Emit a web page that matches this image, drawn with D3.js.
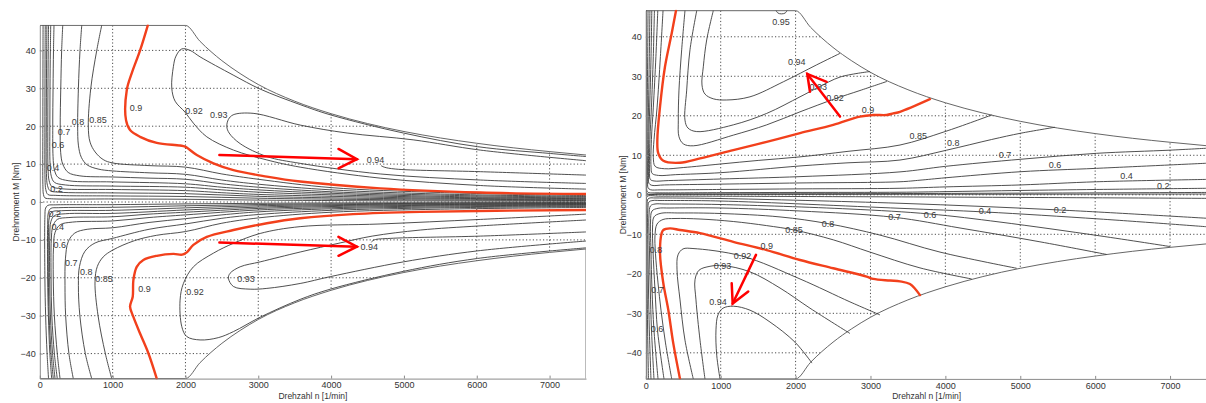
<!DOCTYPE html>
<html>
<head>
<meta charset="utf-8">
<script src="https://cdn.jsdelivr.net/npm/d3@7"></script>
<style>
  html, body { margin: 0; padding: 0; background: #fff; }
  svg { display: block; font-family: "Liberation Sans", Arial, sans-serif; }
</style>
</head>
<body>
<svg id="chart" width="1206" height="403"></svg>
<script>
// ---------- axes ----------
const speedTicks  = [0, 1000, 2000, 3000, 4000, 5000, 6000, 7000];
const torqueTicks = [-40, -30, -20, -10, 0, 10, 20, 30, 40];

// operating envelope (max / min torque over speed)
const torqueMax = [[0,46.6],[2000,46.6],[2200,42.4],[2500,37.3],[2750,33.9],[3000,31.0],[3500,26.6],[4000,23.3],[4500,20.7],[5000,18.6],[5500,16.9],[6000,15.5],[6500,14.3],[7000,13.3],[7500,12.4]];
const torqueMin = [[0,-46.6],[2000,-46.6],[2200,-42.4],[2500,-37.3],[2750,-33.9],[3000,-31.0],[3500,-26.6],[4000,-23.3],[4500,-20.7],[5000,-18.6],[5500,-16.9],[6000,-15.5],[6500,-14.3],[7000,-13.3],[7500,-12.4]];

// ---------- machine A (left map): iso-efficiency lines [n, M] ----------
const A085u = [[850,46.6],[782,40],[700,30],[666,20],[690,15.8],[760,13.2],[870,11.2],[1000,10.3],[1500,9.6],[2000,9.2],[2500,7.4],[3000,6.0],[4000,3.8],[5500,2.5],[7500,1.7]];
const A080u = [[576,46.6],[552,40],[530,30],[520,20],[530,15],[570,11.8],[650,9.8],[800,8.7],[1000,8.2],[1500,7.7],[2000,7.3],[2500,5.8],[3000,4.7],[4000,3.2],[5500,2.1],[7500,1.45]];
const A070u = [[315,46.6],[300,40],[288,30],[280,20],[287,13],[315,10],[390,7.8],[550,6.9],[1000,6.6],[1500,6.3],[2000,6.0],[2500,4.8],[3000,3.9],[4000,2.7],[5500,1.8],[7500,1.25]];
const A060u = [[195,46.6],[188,40],[182,30],[178,20],[182,12],[200,8.5],[250,6.5],[400,5.6],[1000,5.3],[2000,4.8],[2500,3.9],[3000,3.2],[4000,2.3],[5500,1.5],[7500,1.05]];
const A050u = [[150,46.6],[145,40],[140,30],[138,20],[141,10],[158,6.8],[200,5.2],[350,4.5],[1000,4.2],[2000,3.9],[2500,3.2],[3000,2.6],[4000,1.9],[5500,1.25],[7500,0.88]];
const A040u = [[120,46.6],[116,40],[112,30],[110,20],[113,9],[128,5.6],[165,4.1],[300,3.5],[1000,3.3],[2000,3.0],[2500,2.45],[3000,2.0],[4000,1.5],[5500,1.0],[7500,0.72]];
const A030u = [[97,46.6],[94,40],[91,30],[89,20],[91,7.5],[105,4.4],[140,3.0],[260,2.6],[1000,2.4],[2000,2.2],[3000,1.5],[4000,1.1],[5500,0.78],[7500,0.55]];
const A020u = [[75,46.6],[73,40],[71,30],[70,20],[72,6],[82,3.3],[110,2.0],[220,1.75],[1000,1.6],[2000,1.45],[3000,1.0],[4000,0.75],[5500,0.52],[7500,0.38]];
const A010u = [[45,46.6],[44,40],[43,30],[42,20],[43,4],[50,2],[70,1.1],[160,0.85],[1000,0.8],[2000,0.72],[3000,0.5],[4000,0.38],[5500,0.27],[7500,0.2]];

const A085l = [[988,-46.6],[900,-40],[800,-30],[758,-21],[790,-17],[870,-14.5],[1000,-12.7],[1300,-10.2],[1600,-8.8],[2000,-7.8],[2500,-5.6],[3000,-4.2],[4000,-2.7],[5500,-1.9],[7500,-1.45]];
const A080l = [[713,-46.6],[625,-40],[550,-30],[530,-22],[545,-17],[620,-13],[760,-10.8],[1000,-9.6],[1500,-7.2],[2000,-5.8],[2500,-4.3],[3000,-3.3],[4000,-2.2],[5500,-1.55],[7500,-1.2]];
const A070l = [[460,-46.6],[400,-40],[355,-30],[346,-22],[352,-15],[390,-10.5],[480,-8.2],[650,-7.2],[1000,-6.8],[1500,-5.4],[2000,-4.4],[2500,-3.4],[3000,-2.6],[4000,-1.8],[5500,-1.3],[7500,-1.0]];
const A060l = [[278,-46.6],[240,-40],[200,-30],[185,-20],[188,-12],[210,-8],[280,-6],[450,-5.3],[1000,-5.0],[1500,-4.1],[2000,-3.4],[3000,-2.1],[4000,-1.5],[5500,-1.05],[7500,-0.82]];
const A050l = [[240,-46.6],[200,-40],[165,-30],[155,-20],[158,-10],[178,-6.5],[240,-4.6],[400,-4.1],[1000,-3.9],[1500,-3.2],[2000,-2.7],[3000,-1.7],[4000,-1.2],[5500,-0.85],[7500,-0.66]];
const A040l = [[209,-46.6],[175,-40],[145,-30],[135,-20],[137,-9],[152,-5.2],[200,-3.6],[350,-3.1],[1000,-3.0],[2000,-2.1],[3000,-1.35],[4000,-0.95],[5500,-0.68],[7500,-0.52]];
const A030l = [[185,-46.6],[155,-40],[128,-30],[118,-20],[120,-8],[132,-4.0],[170,-2.6],[300,-2.3],[1000,-2.2],[2000,-1.55],[3000,-1.0],[4000,-0.72],[5500,-0.52],[7500,-0.4]];
const A020l = [[163,-46.6],[138,-40],[118,-30],[108,-20],[108,-6],[118,-2.8],[150,-1.7],[260,-1.5],[1000,-1.4],[2000,-1.0],[3000,-0.68],[4000,-0.5],[5500,-0.36],[7500,-0.28]];
const A010l = [[120,-46.6],[100,-40],[80,-30],[70,-20],[70,-4],[80,-1.6],[110,-0.9],[220,-0.75],[1000,-0.7],[2000,-0.5],[3000,-0.35],[4000,-0.26],[5500,-0.19],[7500,-0.14]];

const A092u = [[7500,12.0],[7013,12.8],[6010,14.6],[4993,18.2],[3990,23.0],[3575,25.7],[3026,29.8],[2655,33.5],[2201,38.3],[2064,40.0],[1950,40.4],[1870,38.5],[1834,35.7],[1812,30.1],[1858,26.6],[1995,23.7],[2109,20.8],[2293,17.2],[2659,13.7],[3118,11.1],[3575,9.2],[4674,6.3],[6048,4.35],[7500,3.4]];
const A093u = [[7500,10.9],[6048,13.7],[5127,16.4],[4220,18.2],[3575,20.3],[2929,23.4],[2655,23.0],[2590,21.8],[2568,19.9],[2600,18.2],[2751,15.4],[3118,12.0],[3575,10.2],[4674,7.4],[6048,5.8],[7500,4.9]];
const A094u = [[4686,9.6],[4729,9.2],[4880,8.7],[6048,8.0],[7500,7.1]];
const A092l = [[7500,-3.2],[6048,-4.6],[4674,-5.8],[3575,-6.5],[3026,-8.3],[2659,-10.9],[2384,-13.5],[2109,-17.1],[1972,-21.5],[1926,-25.9],[1950,-32.9],[2018,-35.5],[2201,-36.4],[2450,-35.8],[2659,-34.2],[3026,-30.4],[3575,-25.7],[3990,-23.0],[4993,-18.3],[6010,-14.9],[7500,-12.1]];
const A093l = [[7500,-4.75],[6048,-6.3],[5224,-7.4],[4565,-9.0],[4124,-10.8],[3575,-13.2],[3026,-15.8],[2751,-17.1],[2613,-18.8],[2590,-20.1],[2659,-22.3],[2888,-23.0],[3118,-22.8],[3575,-21.5],[3988,-19.7],[4993,-15.8],[6010,-12.9],[7500,-10.3]];
const A094l = [[4551,-10.6],[4592,-10.0],[4811,-9.6],[6048,-9.0],[7500,-7.9]];

// 90 % line (highlighted)
const A090u = [[1483,46.6],[1377,40],[1263,34],[1194,29.5],[1184,21.6],[1239,19.0],[1377,17.2],[1606,15.6],[1926,14.9],[1995,14.6],[2156,12.4],[2384,10.2],[2659,8.4],[3118,6.7],[3575,5.4],[4674,3.6],[6048,2.5],[7500,2.1]];
const A090l = [[1606,-46.6],[1491,-39.9],[1377,-34.7],[1285,-30.3],[1239,-27.6],[1276,-25.0],[1285,-20.6],[1331,-17.1],[1422,-15.3],[1606,-14.2],[1834,-13.7],[1954,-13.9],[2018,-13.3],[2109,-11.3],[2293,-9.2],[2659,-7.4],[3118,-5.6],[3575,-4.3],[4300,-3.2],[5224,-2.6],[7500,-2.1]];

const aLabels = [
  [229,3.3,"0.2"],[181,9.0,"0.4"],[250,15.0,"0.6"],[332,18.5,"0.7"],[525,21.2,"0.8"],[800,21.6,"0.85"],
  [1322,24.8,"0.9"],[2119,24.1,"0.92"],[2458,22.9,"0.93"],[4610,11.1,"0.94"],
  [205,-3.2,"0.2"],[247,-6.5,"0.4"],[273,-11.3,"0.6"],[433,-16.2,"0.7"],[639,-18.4,"0.8"],[882,-20.4,"0.85"],
  [1438,-23.0,"0.9"],[2132,-23.7,"0.92"],[2833,-20.4,"0.93"],[4523,-11.8,"0.94"]
];
const aArrowShafts = [[[2466,12.4],[4354,11.3]], [[2466,-10.7],[4354,-11.8]]];
const aArrowHeads  = [[[4101,14.0],[4354,11.3],[4101,8.9]], [[4101,-9.2],[4354,-11.8],[4101,-14.2]]];

// ---------- machine B (right map) ----------
const B085u = [[230,46.6],[195,35],[150,22],[110,14],[100,9.5],[125,7.2],[250,6.6],[500,6.9],[1000,7.8],[1500,8.7],[2059,9.6],[2700,11.0],[3394,12.6],[3995,16.0],[4618,20.2]];
const B080u = [[160,46.6],[135,35],[100,22],[75,14],[70,7],[85,5.4],[170,4.9],[400,5.1],[1000,5.6],[2059,7.3],[2700,8.1],[3394,8.8],[4017,11.3],[4618,14.0],[5009,15.6],[5463,17.1]];
const B070u = [[115,46.6],[100,35],[75,22],[55,14],[50,6],[60,3.9],[110,3.5],[300,3.6],[1000,4.0],[2059,4.6],[3394,5.8],[4000,7.2],[5009,9.0],[6020,10.5],[7000,11.3],[7500,11.8]];
const B060u = [[80,46.6],[70,35],[52,22],[40,14],[36,5],[42,2.9],[80,2.4],[250,2.5],[1000,2.7],[2059,3.0],[3394,3.3],[3661,3.7],[4000,4.3],[5009,5.85],[6020,6.7],[7500,8.0]];
const B040u = [[55,46.6],[47,35],[36,22],[28,14],[25,4],[30,1.8],[60,1.3],[200,1.25],[1000,1.35],[2059,1.5],[3394,1.65],[4000,2.0],[5009,2.5],[6020,3.3],[7500,3.9]];
const B020u = [[30,46.6],[25,35],[19,22],[15,14],[13,3],[17,0.9],[40,0.55],[150,0.5],[1000,0.55],[2059,0.6],[3394,0.65],[4000,0.8],[5009,1.1],[6020,1.35],[7500,1.65]];
const B010u = [[10,46.6],[9,30],[8,10],[8,1.5],[20,0.3],[200,0.25],[3000,0.3],[7500,0.6]];
const B005u = [[5,46.6],[4,30],[3,10],[3,1],[10,0.15],[150,0.12],[7500,0.2]];
const B092u = [[523,46.6],[479,36.7],[443,26.5],[434,18.9],[443,14.7],[501,12.9],[634,12.4],[1168,15.1],[1614,17.7],[2059,21.0],[2526,24.3],[2860,26.4],[3220,28.7]];
const B093u = [[680,46.6],[590,36.7],[546,26.5],[523,18.9],[563,16.9],[680,16.0],[1168,17.7],[1614,20.6],[2059,24.8],[2303,27.2],[2593,29.8],[2993,31.2]];
const B094u = [[901,46.6],[813,39.2],[768,32.4],[750,27.8],[790,25.5],[901,24.3],[1080,24.0],[1391,24.8],[1836,28.6],[2282,32.9],[2593,35.8]];
const B095u = [[1740,46.6],[1765,46.0],[1810,45.8],[1860,46.0],[1885,46.6]];

const B085l = [[346,-46.6],[263,-37.5],[203,-29.2],[163,-22.3],[129,-14.8],[123,-10.2],[150,-7.4],[230,-6.25],[390,-6.0],[724,-6.13],[1168,-6.76],[1614,-7.8],[1978,-8.9],[2503,-11.4],[2993,-14.5],[3661,-18.5],[4351,-21.3]];
const B080l = [[243,-46.6],[156,-34.2],[123,-24.1],[96,-14.0],[90,-8.4],[109,-5.6],[190,-4.73],[457,-4.6],[991,-4.73],[1792,-5.6],[2432,-7.3],[3127,-10.2],[3928,-14.5],[4952,-18.6]];
const B070l = [[163,-46.6],[109,-34.2],[83,-24.1],[69,-14.0],[63,-6.9],[83,-4.1],[163,-3.42],[323,-3.34],[991,-3.34],[2059,-4.1],[3320,-5.7],[4195,-8.4],[5263,-11.9],[6153,-15.1]];
const B060l = [[109,-46.6],[76,-34.2],[60,-24.1],[49,-14.0],[43,-5.1],[63,-2.8],[123,-2.33],[256,-2.33],[991,-2.46],[2726,-3.6],[3794,-4.86],[4729,-6.9],[6064,-10.4],[7000,-13.1]];
const B040l = [[69,-46.6],[47,-34.2],[36,-24.1],[29,-14.0],[27,-3.85],[43,-1.8],[96,-1.44],[190,-1.44],[991,-1.57],[3394,-3.42],[4529,-4.35],[6064,-6.13],[7500,-8.1]];
const B020l = [[36,-46.6],[24,-34.2],[19,-24.1],[16,-14.0],[16,-2.6],[29,-1.06],[56,-0.8],[123,-0.8],[991,-0.94],[3394,-2.15],[5530,-3.85],[7500,-5.95]];
const B010l = [[12,-46.6],[10,-30],[8,-10],[8,-1.5],[20,-0.4],[200,-0.35],[3000,-0.5],[7500,-0.9]];
const B092l = [[634,-46.6],[523,-36.8],[457,-26.6],[417,-19.0],[430,-15.2],[497,-13.7],[630,-13.6],[1284,-15.5],[2059,-21.3],[2726,-27.1],[3127,-30.4]];
const B093l = [[790,-46.6],[724,-36.8],[670,-26.6],[657,-21.5],[710,-19.1],[857,-18.1],[1031,-17.9],[1391,-19.5],[1792,-23.6],[2192,-28.7],[2726,-35.1]];
const B094l = [[991,-46.6],[947,-40.6],[937,-34.2],[964,-30.4],[1031,-28.7],[1168,-28.2],[1391,-29.2],[1658,-32.2],[1992,-37.3],[2219,-42.6]];

const B090u = [[403,46.6],[346,40.9],[256,32.4],[190,22.3],[154,13.9],[167,10.5],[234,8.6],[457,8.1],[724,9.2],[1168,11.3],[1614,13.4],[2059,15.6],[2503,17.7],[2859,19.8],[3037,20.2],[3216,20.2],[3304,20.6],[3394,21.0],[3794,24.2]];
const B090l = [[457,-46.6],[367,-37.6],[300,-29.1],[234,-22.4],[190,-14.8],[212,-9.7],[234,-8.9],[323,-8.5],[457,-8.9],[724,-9.7],[1168,-11.9],[1614,-14.0],[2059,-16.5],[2503,-18.6],[2949,-20.7],[3037,-21.3],[3260,-21.7],[3394,-21.9],[3527,-22.6],[3661,-25.4]];

const bLabels = [
  [1805,43.8,"0.95"],[2015,33.7,"0.94"],[2303,27.2,"0.93"],[2526,24.4,"0.92"],[2966,21.5,"0.9"],
  [3638,14.9,"0.85"],[4105,13.2,"0.8"],[4795,10.1,"0.7"],[5463,7.5,"0.6"],[6420,4.8,"0.4"],[6909,2.2,"0.2"],
  [1614,-13.0,"0.9"],[1291,-15.5,"0.92"],[1024,-18.0,"0.93"],[964,-27.1,"0.94"],
  [1978,-8.9,"0.85"],[2432,-7.3,"0.8"],[3320,-5.7,"0.7"],[3794,-5.0,"0.6"],[4529,-4.1,"0.4"],[5530,-3.8,"0.2"],
  [136,-14.0,"0.8"],[156,-24.1,"0.7"],[150,-33.9,"0.6"]
];
const bArrowShafts = [[[2593,19.8],[2156,30.6]], [[1471,-15.2],[1160,-27.5]]];
const bArrowHeads  = [[[2415,28.6],[2156,30.6],[2192,26.1]], [[1147,-22.4],[1160,-27.5],[1368,-24.5]]];

// ---------- drawing ----------
const svg = d3.select("#chart");
const defs = svg.append("defs");

function drawPanel(p) {
  const x = d3.scaleLinear().domain([0, 7500]).range(p.xRange);
  const y = d3.scaleLinear().domain([-46.6, 46.6]).range(p.yRange);
  const g = svg.append("g");

  // clip region = operating envelope
  const envelope = d3.area()
    .x(d => x(d[0]))
    .y1(d => y(d[1]))
    .y0((d, i) => y(torqueMin[i][1]))
    .curve(d3.curveMonotoneX);
  defs.append("clipPath").attr("id", "env" + p.id)
    .append("path").attr("d", envelope(torqueMax));
  defs.append("clipPath").attr("id", "box" + p.id)
    .append("rect")
    .attr("x", x(0)).attr("y", y(46.6) - 1)
    .attr("width", x(7500) - x(0)).attr("height", y(-46.6) - y(46.6) + 2);

  // dotted grid, only inside the envelope
  const grid = g.append("g").attr("clip-path", `url(#env${p.id})`)
    .attr("stroke", "#222").attr("stroke-width", 0.8).attr("stroke-dasharray", "1.2,2.2");
  grid.selectAll("line.v").data(speedTicks.filter(t => t > 0)).join("line")
    .attr("x1", d => x(d)).attr("x2", d => x(d))
    .attr("y1", y(46.6)).attr("y2", y(-46.6));
  grid.selectAll("line.h").data(torqueTicks).join("line")
    .attr("x1", x(0)).attr("x2", x(7500))
    .attr("y1", d => y(d)).attr("y2", d => y(d));

  const line = d3.line().x(d => x(d[0])).y(d => y(d[1])).curve(d3.curveCatmullRom.alpha(0.5));
  const content = g.append("g").attr("clip-path", `url(#box${p.id})`);

  // envelope outline
  const edge = d3.line().x(d => x(d[0])).y(d => y(d[1])).curve(d3.curveMonotoneX);
  content.append("path").attr("d", edge(torqueMax))
    .attr("fill", "none").attr("stroke", "#555").attr("stroke-width", 0.9);
  content.append("path").attr("d", edge(torqueMin))
    .attr("fill", "none").attr("stroke", "#555").attr("stroke-width", 0.9);
  if (p.closeRight) {
    content.append("line")
      .attr("x1", x(7500)).attr("x2", x(7500))
      .attr("y1", y(torqueMin[torqueMin.length - 1][1])).attr("y2", y(-46.6))
      .attr("stroke", "#777").attr("stroke-width", 1);
  }

  // iso-efficiency lines
  content.selectAll("path.iso").data(p.lines).join("path")
    .attr("class", "iso")
    .attr("d", line)
    .attr("fill", "none").attr("stroke", "#3c3c3c").attr("stroke-width", 0.9);

  // 90 % line
  content.selectAll("path.opt").data(p.optimum).join("path")
    .attr("class", "opt")
    .attr("d", line)
    .attr("fill", "none").attr("stroke", "#f2401c").attr("stroke-width", 2.4)
    .attr("stroke-linejoin", "round").attr("stroke-linecap", "round");

  // contour labels
  g.selectAll("text.lbl").data(p.labels).join("text")
    .attr("class", "lbl")
    .attr("x", d => x(d[0])).attr("y", d => y(d[1]))
    .attr("text-anchor", "middle").attr("dominant-baseline", "central")
    .attr("font-size", 9).attr("fill", "#3a3a3a")
    .text(d => d[2]);

  // arrows
  const straight = d3.line().x(d => x(d[0])).y(d => y(d[1]));
  g.selectAll("path.shaft").data(p.shafts).join("path")
    .attr("class", "shaft").attr("d", straight)
    .attr("fill", "none").attr("stroke", "#ff0000").attr("stroke-width", 2.5).attr("stroke-linecap", "round");
  g.selectAll("path.head").data(p.heads).join("path")
    .attr("class", "head").attr("d", straight)
    .attr("fill", "none").attr("stroke", "#ff0000").attr("stroke-width", 2.5)
    .attr("stroke-linecap", "round").attr("stroke-linejoin", "miter");

  // axes
  const ax = g.append("g").attr("transform", `translate(${x(0)},0)`)
    .call(d3.axisLeft(y).tickValues(torqueTicks).tickSizeInner(-3).tickSizeOuter(0).tickPadding(4).tickFormat(d3.format("d")));
  const bx = g.append("g").attr("transform", `translate(0,${y(-46.6)})`)
    .call(d3.axisBottom(x).tickValues(speedTicks).tickSizeInner(-3).tickSizeOuter(0).tickPadding(3.5).tickFormat(d3.format("d")));
  [ax, bx].forEach(a => {
    a.attr("font-family", "Liberation Sans, Arial, sans-serif").attr("font-size", 9);
    a.select(".domain").attr("stroke", "#8a8a8a").attr("stroke-width", 1);
    a.selectAll(".tick line").attr("stroke", "#8a8a8a");
    a.selectAll(".tick text").attr("fill", "#333");
  });

  // axis titles
  g.append("text")
    .attr("x", (x(0) + x(7500)) / 2).attr("y", 399)
    .attr("text-anchor", "middle").attr("font-size", 8.5).attr("fill", "#333")
    .text("Drehzahl n [1/min]");
  g.append("text")
    .attr("transform", `translate(${p.yTitleX},${y(0)}) rotate(-90)`)
    .attr("text-anchor", "middle").attr("font-size", 8.5).attr("fill", "#333")
    .text("Drehmoment M [Nm]");
}

drawPanel({
  id: "A", xRange: [39.8, 586], yRange: [378.6, 25.4], closeRight: true, yTitleX: 19,
  lines: [A085u, A080u, A070u, A060u, A050u, A040u, A030u, A020u, A010u,
          A085l, A080l, A070l, A060l, A050l, A040l, A030l, A020l, A010l,
          A092u, A093u, A094u, A092l, A093l, A094l],
  optimum: [A090u, A090l],
  labels: aLabels, shafts: aArrowShafts, heads: aArrowHeads
});

drawPanel({
  id: "B", xRange: [645.8, 1207.5], yRange: [378.9, 10.7], closeRight: false, yTitleX: 626,
  lines: [B085u, B080u, B070u, B060u, B040u, B020u, B010u, B005u, B092u, B093u, B094u, B095u,
          B085l, B080l, B070l, B060l, B040l, B020l, B010l, B092l, B093l, B094l],
  optimum: [B090u, B090l],
  labels: bLabels, shafts: bArrowShafts, heads: bArrowHeads
});
</script>
</body>
</html>
